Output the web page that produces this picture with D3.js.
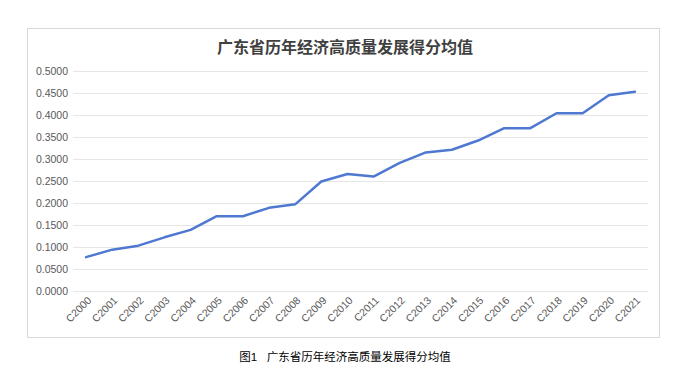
<!DOCTYPE html>
<html><head><meta charset="utf-8">
<script src="https://cdn.jsdelivr.net/npm/d3@7"></script>
<style>body{margin:0;background:#fff;}svg{display:block;font-family:"Liberation Sans","Noto Sans CJK SC",sans-serif;}</style>
</head><body>
<svg id="c" width="674" height="378"></svg>
<script>
const categories = ["C2000","C2001","C2002","C2003","C2004","C2005","C2006","C2007","C2008","C2009","C2010","C2011","C2012","C2013","C2014","C2015","C2016","C2017","C2018","C2019","C2020","C2021"];
const values = [0.077,0.094,0.103,0.122,0.139,0.170,0.170,0.189,0.197,0.249,0.266,0.260,0.291,0.315,0.321,0.342,0.370,0.370,0.404,0.404,0.445,0.453];
const yTicks = [0,0.05,0.1,0.15,0.2,0.25,0.3,0.35,0.4,0.45,0.5];
const title = "广东省历年经济高质量发展得分均值";
const caption = "图1   广东省历年经济高质量发展得分均值";

(function(){
const svg = d3.select("#c");
svg.append("rect").attr("x",27.5).attr("y",28.5).attr("width",632).attr("height",309)
  .attr("fill","#fff").attr("stroke","#d9d9d9").attr("stroke-width",1);

const mLeft = 73, mRight = 648, mTop = 71, mBottom = 291;
const x = d3.scaleBand().domain(categories).range([mLeft,mRight]);
const y = d3.scaleLinear().domain([0,0.5]).range([mBottom,mTop]);

const yAxis = svg.append("g").attr("transform",`translate(${mLeft},0)`)
  .call(d3.axisLeft(y).tickValues(yTicks).tickFormat(d3.format(".4f")).tickSize(-(mRight-mLeft)).tickPadding(5));
yAxis.select(".domain").remove();
yAxis.selectAll(".tick line").attr("stroke","#e6e6e6").attr("stroke-width",1);
yAxis.selectAll(".tick text").attr("fill","#595959").attr("font-size","10.5px");

const xAxis = svg.append("g").attr("transform",`translate(0,${mBottom})`)
  .call(d3.axisBottom(x).tickSize(0).tickPadding(0));
xAxis.select(".domain").remove();
xAxis.selectAll(".tick text").attr("fill","#595959").attr("font-size","10.5px")
  .attr("text-anchor","end").attr("dy",0)
  .attr("transform","translate(6,10) rotate(-45)");

const line = d3.line().x((d,i)=>x(categories[i])+x.bandwidth()/2).y(d=>y(d));
svg.append("path").datum(values).attr("d",line).attr("fill","none")
  .attr("stroke","#4f78d0").attr("stroke-width",2.5).attr("stroke-linejoin","round").attr("stroke-linecap","round");

svg.append("text").attr("x",345).attr("y",53).attr("text-anchor","middle")
  .attr("font-size","16px").attr("font-weight","bold").attr("fill","#404040").text(title);

svg.append("text").attr("x",345).attr("y",361).attr("text-anchor","middle").attr("xml:space","preserve")
  .attr("font-size","11.5px").attr("fill","#000").text(caption);
})();
</script>
</body></html>
